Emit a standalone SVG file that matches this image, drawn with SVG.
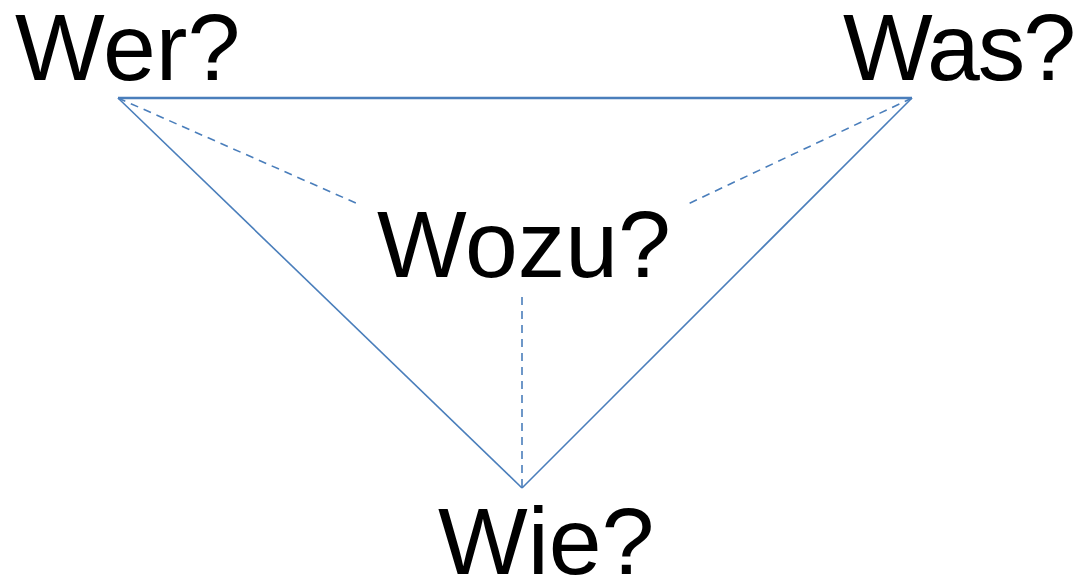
<svg xmlns="http://www.w3.org/2000/svg" width="1088" height="580" viewBox="0 0 1088 580">
  <style>
    .lbl { font-family: "Liberation Sans", Arial, sans-serif; font-size: 95px; fill: #000; }
    .edge { stroke: #4a7ebb; fill: none; stroke-width: 1.6; }
    .top { stroke-width: 2.6; }
    .dash { stroke-dasharray: 8 6; }
  </style>
  <rect width="1088" height="580" fill="#fff"/>
  <g id="connectors">
    <line class="edge top" x1="118" y1="98" x2="912" y2="98"/>
    <line class="edge" x1="118" y1="98" x2="522" y2="488"/>
    <line class="edge" x1="912" y1="98" x2="522" y2="488"/>
    <line class="edge dash" x1="118" y1="98" x2="358" y2="204"/>
    <line class="edge dash" x1="912" y1="98" x2="688" y2="204"/>
    <line class="edge dash" x1="522" y1="297" x2="522" y2="488"/>
  </g>
  <g id="wer"><text class="lbl" x="15" y="80">Wer?</text></g>
  <g id="was"><text class="lbl" x="843" y="80" textLength="233" lengthAdjust="spacing">Was?</text></g>
  <g id="wozu"><text class="lbl" x="377" y="277">Wozu?</text></g>
  <g id="wie"><text class="lbl" x="438" y="574">Wie?</text></g>
</svg>
